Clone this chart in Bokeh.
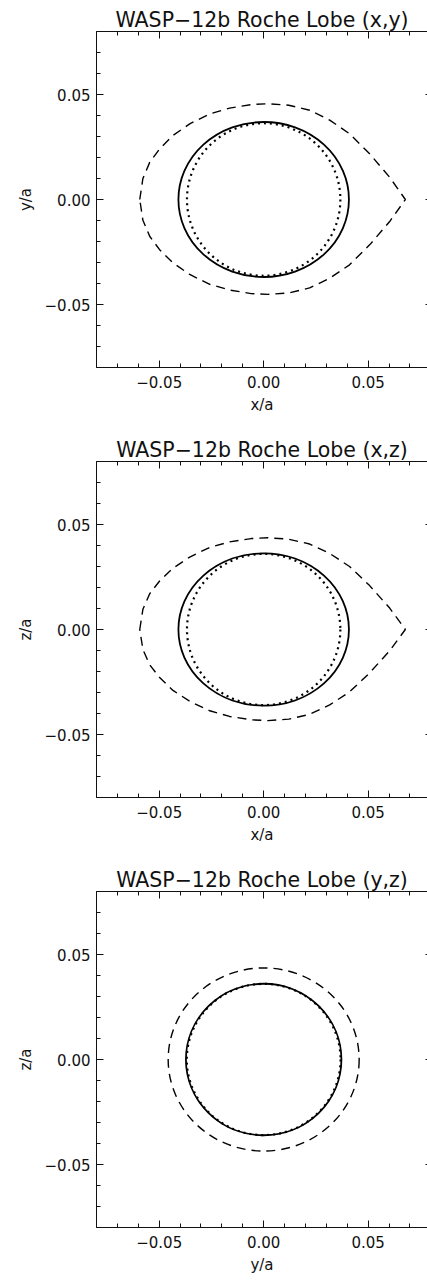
from bokeh.plotting import figure
from bokeh.layouts import column
from bokeh.models import FixedTicker, LinearAxis, Range1d
from bokeh.embed import file_html
from bokeh.resources import INLINE

# ---------------- data ----------------
titles = ["WASP\u221212b Roche Lobe (x,y)",
          "WASP\u221212b Roche Lobe (x,z)",
          "WASP\u221212b Roche Lobe (y,z)"]
x_labels = ["x/a", "x/a", "y/a"]
y_labels = ["y/a", "z/a", "z/a"]

major_ticks = [-0.05, 0.0, 0.05]
tick_labels = ["\u22120.05", "0.00", "0.05"]
minor_ticks = [-0.08, -0.07, -0.06, -0.05, -0.04, -0.03, -0.02, -0.01, 0.0,
               0.01, 0.02, 0.03, 0.04, 0.05, 0.06, 0.07, 0.08]

# Roche lobe outline, (x,y) plane (closed curve)
lobe_xy_x = [-0.0593, -0.0578, -0.0545, -0.0498, -0.0434, -0.0354, -0.0258, -0.0163,
             -0.0060, 0.0020, 0.0120, 0.0220, 0.0316, 0.0411, 0.0507, 0.0603, 0.0678,
             0.0603, 0.0507, 0.0411, 0.0316, 0.0220, 0.0120, 0.0020, -0.0060,
             -0.0163, -0.0258, -0.0354, -0.0434, -0.0498, -0.0545, -0.0578, -0.0593]
lobe_xy_y = [0.0000, 0.0100, 0.0178, 0.0241, 0.0305, 0.0360, 0.0408, 0.0435,
             0.0452, 0.0456, 0.0449, 0.0425, 0.0378, 0.0313, 0.0218, 0.0106, 0.0000,
             -0.0105, -0.0216, -0.0311, -0.0375, -0.0421, -0.0445, -0.0452, -0.0448,
             -0.0431, -0.0404, -0.0357, -0.0302, -0.0239, -0.0176, -0.0099, 0.0000]

# Roche lobe outline, (x,z) plane (closed curve)
lobe_xz_x = [-0.0593, -0.0578, -0.0545, -0.0498, -0.0434, -0.0354, -0.0258, -0.0163,
             -0.0060, 0.0020, 0.0120, 0.0220, 0.0316, 0.0411, 0.0507, 0.0603, 0.0678,
             0.0603, 0.0507, 0.0411, 0.0316, 0.0220, 0.0120, 0.0020, -0.0060,
             -0.0163, -0.0258, -0.0354, -0.0434, -0.0498, -0.0545, -0.0578, -0.0593]
lobe_xz_z = [0.0000, 0.0096, 0.0171, 0.0231, 0.0292, 0.0345, 0.0391, 0.0417,
             0.0433, 0.0437, 0.0430, 0.0407, 0.0362, 0.0300, 0.0209, 0.0102, 0.0000,
             -0.0101, -0.0207, -0.0297, -0.0359, -0.0404, -0.0427, -0.0434, -0.0430,
             -0.0414, -0.0387, -0.0342, -0.0290, -0.0229, -0.0169, -0.0095, 0.0000]

# Roche lobe outline, (y,z) plane: full extents
lobe_yz_width = 0.0914
lobe_yz_height = 0.0872

# planet outlines (full extents) for the three panels
solid_width = [0.0816, 0.0816, 0.0744]
solid_height = [0.0738, 0.0725, 0.0722]
dotted_width = [0.0734, 0.0734, 0.0736]
dotted_height = [0.0726, 0.0720, 0.0720]

# ---------------- styling ----------------
FONT = "DejaVu Sans"
INK = "#111111"
fig_heights = [430, 430, 420]
bottom_borders = [63, 63, 53]


def style_axis(ax, labels=True):
    ax.axis_line_color = INK
    ax.axis_line_width = 1
    ax.major_tick_line_color = INK
    ax.minor_tick_line_color = INK
    ax.major_tick_in = 7
    ax.major_tick_out = 0
    ax.minor_tick_in = 4
    ax.minor_tick_out = 0
    if labels:
        ax.major_label_overrides = dict(zip(major_ticks, tick_labels))
        ax.major_label_text_font = FONT
        ax.major_label_text_font_size = "15px"
        ax.major_label_text_color = INK
        ax.axis_label_text_font = FONT
        ax.axis_label_text_font_size = "15px"
        ax.axis_label_text_font_style = "normal"
        ax.axis_label_text_color = INK
    else:
        ax.major_label_text_color = None
        ax.major_label_text_alpha = 0
        ax.major_label_text_font_size = "1px"
        ax.major_label_standoff = 0


plots = []
for i in range(3):
    p = figure(width=427, height=fig_heights[i],
               x_range=Range1d(-0.08, 0.0784), y_range=Range1d(-0.08, 0.08),
               output_backend="svg", toolbar_location=None,
               x_axis_type=None, y_axis_type=None,
               min_border_left=96, min_border_right=0,
               min_border_top=31, min_border_bottom=bottom_borders[i])
    p.outline_line_color = None
    p.background_fill_color = "white"
    p.border_fill_color = "white"

    p.title.text = titles[i]
    p.title.align = "center"
    p.title.text_font = FONT
    p.title.text_font_size = "20.5px"
    p.title.text_font_style = "normal"
    p.title.text_color = INK
    p.title.standoff = 0

    bottom = LinearAxis(ticker=FixedTicker(ticks=major_ticks, minor_ticks=minor_ticks),
                        axis_label=x_labels[i])
    style_axis(bottom)
    bottom.major_label_standoff = 8
    bottom.axis_label_standoff = 5
    p.add_layout(bottom, "below")

    left = LinearAxis(ticker=FixedTicker(ticks=major_ticks, minor_ticks=minor_ticks),
                      axis_label=y_labels[i])
    style_axis(left)
    left.major_label_standoff = 6
    left.axis_label_standoff = 7
    p.add_layout(left, "left")

    top = LinearAxis(ticker=FixedTicker(ticks=major_ticks, minor_ticks=minor_ticks))
    style_axis(top, labels=False)
    p.add_layout(top, "above")

    right = LinearAxis(ticker=FixedTicker(ticks=major_ticks, minor_ticks=[]))
    style_axis(right, labels=False)
    right.axis_line_color = None
    right.major_tick_in = 2
    p.add_layout(right, "right")

    if i == 0:
        p.line(lobe_xy_x, lobe_xy_y, line_color="black", line_width=1.4, line_dash="9 6")
    elif i == 1:
        p.line(lobe_xz_x, lobe_xz_z, line_color="black", line_width=1.4, line_dash="9 6")
    else:
        p.ellipse(x=[0.0], y=[0.0], width=[lobe_yz_width], height=[lobe_yz_height],
                  fill_color=None, line_color="black", line_width=1.4, line_dash="9 6")

    p.ellipse(x=[0.0], y=[0.0], width=[solid_width[i]], height=[solid_height[i]],
              fill_color=None, line_color="black", line_width=1.8)
    p.ellipse(x=[0.0], y=[0.0], width=[dotted_width[i]], height=[dotted_height[i]],
              fill_color=None, line_color="black", line_width=2.2, line_dash="2 4")
    plots.append(p)

layout = column(*plots, spacing=0)
open("out.html", "w").write(file_html(layout, INLINE))
